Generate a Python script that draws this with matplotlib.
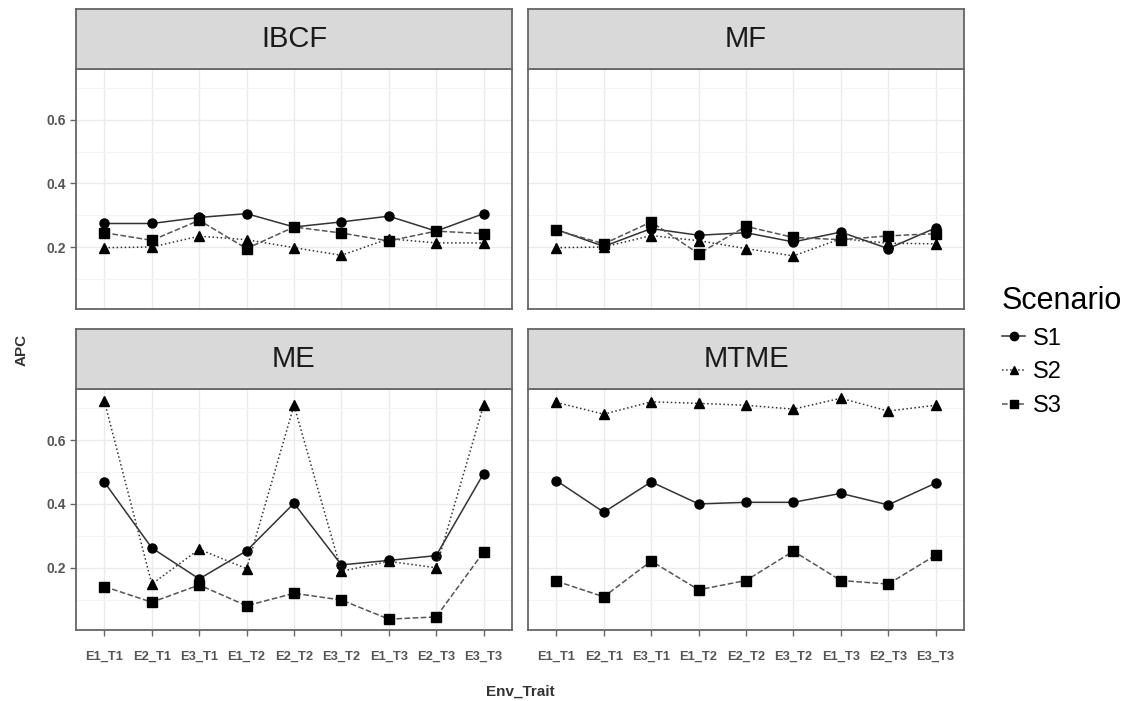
import numpy as np
import matplotlib.pyplot as plt
from matplotlib.lines import Line2D

env_trait = ['E1_T1', 'E2_T1', 'E3_T1', 'E1_T2', 'E2_T2', 'E3_T2', 'E1_T3', 'E2_T3', 'E3_T3']
scenarios = ['S1', 'S2', 'S3']
methods = ['IBCF', 'MF', 'ME', 'MTME']

ibcf_s1 = [0.274, 0.274, 0.293, 0.305, 0.263, 0.279, 0.297, 0.250, 0.305]
ibcf_s2 = [0.198, 0.200, 0.234, 0.223, 0.198, 0.174, 0.226, 0.213, 0.213]
ibcf_s3 = [0.245, 0.221, 0.284, 0.195, 0.263, 0.244, 0.219, 0.250, 0.242]

mf_s1 = [0.255, 0.202, 0.258, 0.237, 0.245, 0.216, 0.247, 0.195, 0.260]
mf_s2 = [0.198, 0.200, 0.236, 0.220, 0.195, 0.172, 0.226, 0.212, 0.210]
mf_s3 = [0.253, 0.210, 0.279, 0.179, 0.265, 0.230, 0.223, 0.235, 0.242]

me_s1 = [0.468, 0.262, 0.165, 0.253, 0.402, 0.209, 0.223, 0.238, 0.495]
me_s2 = [0.721, 0.149, 0.258, 0.197, 0.709, 0.189, 0.220, 0.200, 0.709]
me_s3 = [0.141, 0.092, 0.146, 0.081, 0.120, 0.099, 0.039, 0.046, 0.249]

mtme_s1 = [0.473, 0.374, 0.469, 0.400, 0.405, 0.405, 0.433, 0.397, 0.465]
mtme_s2 = [0.718, 0.681, 0.720, 0.715, 0.709, 0.697, 0.731, 0.691, 0.709]
mtme_s3 = [0.158, 0.109, 0.221, 0.131, 0.160, 0.252, 0.160, 0.149, 0.239]

data = {
    'IBCF': [ibcf_s1, ibcf_s2, ibcf_s3],
    'MF': [mf_s1, mf_s2, mf_s3],
    'ME': [me_s1, me_s2, me_s3],
    'MTME': [mtme_s1, mtme_s2, mtme_s3],
}

styles = [('-', 'o', '#333333'), (':', '^', '#333333'), ('--', 's', '#555555')]
plt.rcParams['font.family'] = ['Liberation Sans', 'DejaVu Sans']

fig = plt.figure(figsize=(11.31, 7.01), dpi=100)

W, H = 1131, 701
lefts = [76, 528]
rows = [(69, 309, 9), (389, 630, 329)]  # body top, body bottom, strip top
x = np.arange(1, 10)

for i, m in enumerate(methods):
    r, c = divmod(i, 2)
    top, bot, stop = rows[r]
    left = lefts[c]
    ax = fig.add_axes([left / W, 1 - bot / H, 436 / W, (bot - top) / H])
    for k in range(3):
        ls, mk, col = styles[k]
        ax.plot(x, data[m][k], linestyle=ls, color=col, lw=1.1,
                marker=mk, markersize=6.5, markerfacecolor='black',
                markeredgecolor='black', zorder=3)
    ax.set_xlim(0.4, 9.6)
    ax.set_ylim(0.005, 0.76)
    ax.set_yticks([0.2, 0.4, 0.6])
    ax.set_yticks([0.1, 0.3, 0.5, 0.7], minor=True)
    ax.set_xticks(x)
    ax.grid(True, which='major', color='#EBEBEB', lw=1.0)
    ax.grid(True, which='minor', axis='y', color='#F4F4F4', lw=0.8)
    ax.set_axisbelow(True)
    for s in ax.spines.values():
        s.set_color('#666666')
        s.set_linewidth(1.3)
    ax.tick_params(axis='both', which='major', color='#666666', length=4, width=1,
                   labelcolor='#555555', labelsize=10)
    ax.tick_params(which='minor', length=0)
    if c == 0:
        ax.set_yticklabels(['0.2', '0.4', '0.6'], fontweight='bold')
    else:
        ax.tick_params(axis='y', length=0, labelleft=False)
    if r == 1:
        ax.set_xticklabels(env_trait, fontweight='bold', fontsize=9.3)
        ax.tick_params(axis='x', pad=11)
    else:
        ax.tick_params(axis='x', length=0, labelbottom=False)

    sax = fig.add_axes([left / W, 1 - top / H, 436 / W, (top - stop) / H])
    sax.set_facecolor('#D9D9D9')
    sax.set_xticks([])
    sax.set_yticks([])
    for s in sax.spines.values():
        s.set_color('#666666')
        s.set_linewidth(1.3)
    sax.text(0.5, 0.5, m, ha='center', va='center', fontsize=21, color='#1A1A1A',
             transform=sax.transAxes)

fig.text(22 / W, 1 - 350 / H, 'APC', rotation=90, ha='center', va='center',
         fontsize=11, fontweight='bold', color='#333333')
fig.text(520 / W, 1 - 692 / H, 'Env_Trait', ha='center', va='center',
         fontsize=11, fontweight='bold', color='#333333')

handles = [Line2D([], [], linestyle=styles[k][0], color=styles[k][2], lw=1.1,
                  marker=styles[k][1], markersize=6, markerfacecolor='black',
                  markeredgecolor='black') for k in range(3)]
leg = fig.legend(handles, scenarios, title='Scenario', loc='upper left',
                 bbox_to_anchor=(990 / W, 1 - 274 / H), frameon=False,
                 fontsize=17, title_fontsize=22, handlelength=1.0,
                 handletextpad=0.3, labelspacing=0.5, borderpad=0)
leg._legend_box.align = 'left'

fig.savefig('out.png', dpi=100)
